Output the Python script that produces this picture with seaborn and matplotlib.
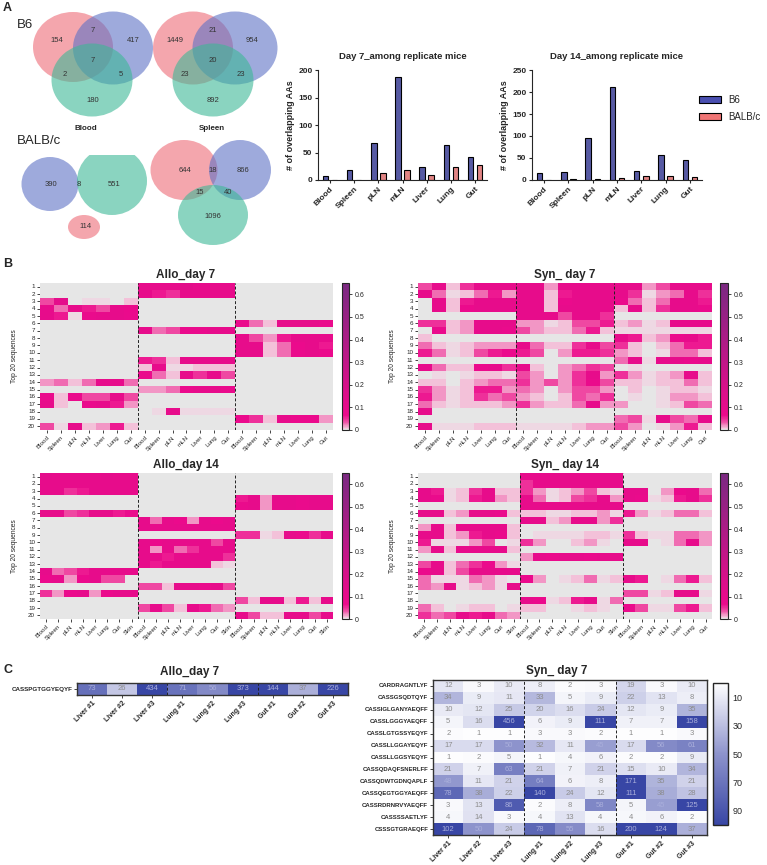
import numpy as np
import pandas as pd
import matplotlib
matplotlib.use("Agg")
import matplotlib.pyplot as plt
import seaborn as sns
from matplotlib.patches import Ellipse, Rectangle, Patch
from matplotlib.colors import LinearSegmentedColormap

W, H = 767, 865

# ---------------- panel A data ----------------
tissues = ['Blood', 'Spleen', 'pLN', 'mLN', 'Liver', 'Lung', 'Gut']
day7_b6 = [7, 19, 68, 187, 24, 64, 42]
day7_balb = [0, 0, 13, 18, 9, 24, 27]
day14_b6 = [17, 19, 95, 211, 20, 56, 45]
day14_balb = [0, 2, 2, 4, 9, 10, 6]

# venn counts (B6): red only, red&blue, blue only, red&green, all, blue&green, green only
venn_b6_blood = [154, 7, 417, 2, 7, 5, 180]
venn_b6_spleen = [1449, 21, 954, 23, 20, 23, 892]
# BALB/c blood: blue only, blue&green, green only, red only
venn_balb_blood = [390, 8, 551, 114]
# BALB/c spleen: red only, red&blue, blue only, red&green, blue&green, green only
venn_balb_spleen = [644, 18, 866, 15, 40, 1096]

# ---------------- panel B data ----------------
organs7 = tissues
organs8 = tissues + ['Skin']

allo_d7 = [
    [0, 0, 0, 0, 0, 0, 0, .1, .1, .1, .13, .1, .1, .1, 0, 0, 0, 0, 0, 0, 0],
    [0, 0, 0, 0, 0, 0, 0, .1, .06, .05, .1, .1, .1, .1, 0, 0, 0, 0, 0, 0, 0],
    [.04, .12, 0, .005, .005, 0, .01, 0, 0, 0, 0, 0, 0, 0, 0, 0, 0, 0, 0, 0, 0],
    [.1, .03, .1, .06, .04, .1, .07, 0, 0, 0, 0, 0, 0, 0, 0, 0, 0, 0, 0, 0, 0],
    [.1, .06, .005, .08, .1, .1, .08, 0, 0, 0, 0, 0, 0, 0, 0, 0, 0, 0, 0, 0, 0],
    [0, 0, 0, 0, 0, 0, 0, 0, 0, 0, 0, 0, 0, 0, .08, .03, .01, .1, .1, .1, .08],
    [0, 0, 0, 0, 0, 0, 0, .1, .03, .04, .08, .08, .1, .1, 0, 0, 0, 0, 0, 0, 0],
    [0, 0, 0, 0, 0, 0, 0, 0, 0, 0, 0, 0, 0, 0, .1, .04, .02, .06, .1, .1, .1],
    [0, 0, 0, 0, 0, 0, 0, 0, 0, 0, 0, 0, 0, 0, .1, .1, .01, .03, .07, .1, .06],
    [0, 0, 0, 0, 0, 0, 0, 0, 0, 0, 0, 0, 0, 0, .1, .1, .01, .03, .08, .1, .07],
    [0, 0, 0, 0, 0, 0, 0, .06, .05, .01, .1, .1, .1, .1, 0, 0, 0, 0, 0, 0, 0],
    [0, 0, 0, 0, 0, 0, 0, .01, .1, .005, .005, .01, .01, .01, 0, 0, 0, 0, 0, 0, 0],
    [0, 0, 0, 0, 0, 0, 0, .08, .03, .01, .1, .05, .1, .04, 0, 0, 0, 0, 0, 0, 0],
    [.02, .03, .01, .03, .1, .1, .03, 0, 0, 0, 0, 0, 0, 0, 0, 0, 0, 0, 0, 0, 0],
    [0, 0, 0, 0, 0, 0, 0, .02, .02, .03, .07, .1, .1, .08, 0, 0, 0, 0, 0, 0, 0],
    [.08, .01, .08, .04, .04, .1, .04, 0, 0, 0, 0, 0, 0, 0, 0, 0, 0, 0, 0, 0, 0],
    [.1, .01, 0, .08, .1, .06, .02, 0, 0, 0, 0, 0, 0, 0, 0, 0, 0, 0, 0, 0, 0],
    [0, 0, 0, 0, 0, 0, 0, 0, .005, .1, .003, .003, .003, .003, 0, 0, 0, 0, 0, 0, 0],
    [0, 0, 0, 0, 0, 0, 0, 0, 0, 0, 0, 0, 0, 0, .07, .05, .01, .1, .07, .07, .02],
    [.04, .005, .1, .01, .02, .06, .01, 0, 0, 0, 0, 0, 0, 0, 0, 0, 0, 0, 0, 0, 0],
]

syn_d7 = [
    [.04, .1, .01, .05, .1, .1, .1, .1, .1, .02, .1, .1, .1, .1, .1, .1, .02, .04, .1, .1, .1],
    [.1, .03, .005, .01, .03, .06, .02, .1, .1, .01, .06, .1, .1, .1, .1, .05, .003, .02, .03, .1, .05],
    [0, .1, .01, .06, .1, .1, .1, .1, .1, .01, .08, .1, .1, .1, .08, .03, .01, .03, .1, .1, .06],
    [0, .1, .01, .07, .1, .1, .1, .1, .1, .01, .1, .1, .1, .1, .01, .1, .01, .05, .1, .1, .08],
    [0, 0, 0, 0, 0, 0, 0, .1, .1, .1, .04, .1, .1, .05, 0, 0, 0, 0, 0, 0, 0],
    [.05, .05, .01, .02, .1, .1, .1, .02, .02, .005, .01, .04, .04, .06, .01, .02, .005, .01, .1, .1, .1],
    [0, .08, .01, .02, .1, .1, .08, .04, .02, .01, .01, .03, .06, .01, .005, .005, .005, .005, .005, .005, .005],
    [.01, 0, 0, 0, 0, 0, 0, 0, 0, 0, 0, 0, 0, 0, .1, .06, .01, .02, .07, .1, .06],
    [.03, .01, .005, .01, .02, .02, .02, .1, .03, .01, .01, .05, .1, .04, .05, .01, 0, .01, .03, .06, .06],
    [.06, .03, .005, .01, .04, .06, .07, .06, .04, 0, .02, .06, .06, .05, .02, .01, 0, .005, .03, .03, .01],
    [0, 0, 0, 0, 0, 0, 0, 0, 0, 0, 0, 0, 0, 0, .03, .1, .005, .1, .1, .08, .1],
    [.1, .03, .01, .01, .07, .1, .05, .1, .01, 0, .02, .03, .05, .04, 0, .005, 0, 0, 0, 0, 0],
    [0, .005, 0, .005, .01, .01, .005, .04, .02, 0, .02, .05, .1, .02, .05, .02, .005, .01, .02, .1, .01],
    [.01, .01, 0, .01, .02, .03, .03, .05, .02, .04, .02, .05, .08, .04, .01, .01, .005, .01, .01, .03, .01],
    [.05, .02, .005, .01, .06, .06, .02, .03, .02, 0, .02, .04, .04, .02, 0, .01, 0, .005, .01, .01, .005],
    [.06, .02, .005, .01, .05, .03, .04, .02, .01, 0, .01, .04, .03, .05, 0, .005, 0, .005, .02, .02, .01],
    [.03, .01, .005, .01, .01, .01, .02, .05, .02, .01, .01, .03, .1, .02, .02, 0, 0, .005, .01, .04, .03],
    [.1, 0, 0, 0, 0, 0, 0, 0, 0, 0, 0, 0, 0, 0, 0, 0, 0, 0, 0, 0, 0],
    [0, 0, 0, 0, 0, 0, 0, 0, 0, 0, 0, 0, 0, 0, .03, .04, .005, .1, .04, .03, .1],
    [.1, .005, .005, .005, .01, .01, .01, .005, .005, .005, .005, .01, .02, .02, .04, .02, 0, .005, .02, .06, .01],
]

allo_d14 = [
    [.12, .1, .1, .1, .1, .12, .1, .1, 0, 0, 0, 0, 0, 0, 0, 0, 0, 0, 0, 0, 0, 0, 0, 0],
    [.1, .1, .1, .1, .1, .1, .1, .1, 0, 0, 0, 0, 0, 0, 0, 0, 0, 0, 0, 0, 0, 0, 0, 0],
    [.1, .1, .05, .06, .1, .1, .1, .1, 0, 0, 0, 0, 0, 0, 0, 0, 0, 0, 0, 0, 0, 0, 0, 0],
    [0, 0, 0, 0, 0, 0, 0, 0, 0, 0, 0, 0, 0, 0, 0, 0, .06, .1, .02, .1, .1, .08, .1, .1],
    [0, 0, 0, 0, 0, 0, 0, 0, 0, 0, 0, 0, 0, 0, 0, 0, .08, .1, .02, .1, .1, .08, .1, .1],
    [.1, .1, .04, .05, .1, .1, .06, .08, 0, 0, 0, 0, 0, 0, 0, 0, 0, 0, 0, 0, 0, 0, 0, 0],
    [0, 0, 0, 0, 0, 0, 0, 0, .1, .03, .1, .07, .02, .1, .07, .1, 0, 0, 0, 0, 0, 0, 0, 0],
    [0, 0, 0, 0, 0, 0, 0, 0, .1, .1, .1, .1, .1, .1, .1, .1, 0, 0, 0, 0, 0, 0, 0, 0],
    [0, 0, 0, 0, 0, 0, 0, 0, 0, 0, 0, 0, 0, 0, 0, 0, .05, .05, .005, .01, .1, .07, .05, .1],
    [0, 0, 0, 0, 0, 0, 0, 0, .1, .07, .1, .1, .1, .1, .04, .1, 0, 0, 0, 0, 0, 0, 0, 0],
    [0, 0, 0, 0, 0, 0, 0, 0, .1, .02, .1, .03, .05, .1, .1, .1, 0, 0, 0, 0, 0, 0, 0, 0],
    [0, 0, 0, 0, 0, 0, 0, 0, .1, .1, .06, .1, .1, .1, .1, .05, 0, 0, 0, 0, 0, 0, 0, 0],
    [0, 0, 0, 0, 0, 0, 0, 0, .1, .06, .1, .1, .1, .1, .01, .005, 0, 0, 0, 0, 0, 0, 0, 0],
    [.1, .03, .04, .06, .1, .1, .1, .1, 0, 0, 0, 0, 0, 0, 0, 0, 0, 0, 0, 0, 0, 0, 0, 0],
    [.07, .1, .02, .07, .1, .04, .04, 0, 0, 0, 0, 0, 0, 0, 0, 0, 0, 0, 0, 0, 0, 0, 0, 0],
    [0, 0, 0, 0, 0, 0, 0, 0, .04, .04, .01, .1, .1, .08, .1, .04, 0, 0, 0, 0, 0, 0, 0, 0],
    [.05, .02, .07, .1, .02, .07, .1, .1, 0, 0, 0, 0, 0, 0, 0, 0, 0, 0, 0, 0, 0, 0, 0, 0],
    [0, 0, 0, 0, 0, 0, 0, 0, 0, 0, 0, 0, 0, 0, 0, 0, .04, .01, .1, .1, .01, .06, .01, .1],
    [0, 0, 0, 0, 0, 0, 0, 0, .04, .1, .04, .01, .1, .06, .03, .02, 0, 0, 0, 0, 0, 0, 0, 0],
    [0, 0, 0, 0, 0, 0, 0, 0, 0, 0, 0, 0, 0, 0, 0, 0, .1, .04, .01, .01, .1, .1, .04, .1],
]

syn_d14 = [
    [0, 0, 0, 0, 0, 0, 0, 0, .1, .1, .1, .1, .1, .1, .1, .1, 0, 0, 0, 0, 0, 0, 0],
    [0, 0, 0, 0, 0, 0, 0, 0, .05, .1, .1, .1, .1, .1, .1, .1, 0, 0, 0, 0, 0, 0, 0],
    [.1, .06, .005, .01, .05, .1, .01, .01, .05, .02, .005, .01, .02, .04, .01, .005, .1, .1, 0, .02, .07, .1, .03],
    [.1, .08, .005, .01, .06, .1, .02, .01, .1, .03, .005, .01, .04, .05, .1, .02, .1, .08, .005, .01, .06, .1, .05],
    [0, 0, 0, 0, 0, 0, 0, 0, .1, .1, .1, .1, .1, .1, .1, .1, 0, 0, 0, 0, 0, 0, 0],
    [.1, .1, .01, .02, .1, .1, .08, .01, .01, .01, .005, .005, .01, .01, .02, .005, .06, .02, .005, .01, .03, .03, .01],
    [0, 0, 0, 0, 0, 0, 0, 0, .1, .1, .01, .02, .1, .1, .02, .05, 0, 0, 0, 0, 0, 0, 0],
    [.02, .1, .01, .1, .1, .1, .1, .01, 0, 0, 0, 0, 0, 0, 0, 0, 0, 0, 0, 0, 0, 0, 0],
    [.1, .1, .01, .02, .06, .1, .08, .01, 0, .005, .005, .005, .005, .01, .01, .005, .05, .01, .005, .005, .03, .03, .02],
    [.06, .005, .005, .005, .02, .04, 0, .005, .05, .02, 0, 0, .01, .02, .005, 0, .1, .1, 0, .005, .03, .1, .02],
    [.02, .1, .01, .1, .1, .1, .1, .01, 0, 0, 0, 0, 0, 0, 0, 0, 0, 0, 0, 0, 0, 0, 0],
    [0, 0, 0, 0, 0, 0, 0, 0, .02, .1, .07, .1, .1, .08, .1, .1, 0, 0, 0, 0, 0, 0, 0],
    [.04, .1, .01, .03, .05, .07, .02, .005, 0, 0, 0, 0, 0, 0, 0, 0, 0, 0, 0, 0, 0, 0, 0],
    [.07, .1, .01, .04, .1, .1, .1, .1, 0, 0, 0, 0, 0, 0, 0, 0, 0, 0, 0, 0, 0, 0, 0],
    [.03, .005, .005, .005, .03, .02, .005, 0, .07, .02, 0, .005, .01, .03, .005, .01, .1, .06, 0, .005, .03, .06, .01],
    [.03, .02, .1, .005, .01, .02, .005, .1, 0, 0, 0, 0, 0, 0, 0, 0, 0, 0, 0, 0, 0, 0, 0],
    [0, 0, 0, 0, 0, 0, 0, 0, 0, 0, 0, 0, 0, 0, 0, 0, .04, .04, .005, .01, .1, .1, .005],
    [0, 0, 0, 0, 0, 0, 0, 0, .1, .07, .005, .01, .06, .1, .005, .03, 0, 0, 0, 0, 0, 0, 0],
    [.03, .01, 0, .005, .01, .01, 0, .005, .01, .01, 0, 0, .005, .01, .005, 0, .08, .04, .005, .005, .04, .06, .01],
    [.05, .03, .04, .1, .06, .1, .03, .02, 0, 0, 0, 0, 0, 0, 0, 0, 0, 0, 0, 0, 0, 0, 0],
]

# ---------------- panel C data ----------------
c_cols = ['Liver #1', 'Liver #2', 'Liver #3', 'Lung #1', 'Lung #2', 'Lung #3',
          'Gut #1', 'Gut #2', 'Gut #3']
allo_c_seqs = ['CASSPGTGGYEQYF']
allo_c_vals = [[73, 26, 434, 71, 56, 373, 144, 37, 226]]
syn_c_seqs = ['CARDRAGNTLYF', 'CASSGSQDTQYF', 'CASSIGLGANYAEQFF', 'CASSLGGGYAEQFF',
              'CASSLGTGSSYEQYF', 'CASSLLGGAYEQYF', 'CASSLLGGSYEQYF', 'CASSQDAQFSNERLFF',
              'CASSQDWTGDNQAPLF', 'CASSQEGTGGYAEQFF', 'CASSRDRNRVYAEQFF', 'CASSSSAETLYF',
              'CSSSGTGRAEQFF']
syn_c_vals = [
    [12, 3, 10, 8, 2, 3, 19, 3, 10],
    [34, 9, 11, 33, 5, 9, 22, 13, 8],
    [10, 12, 25, 20, 16, 24, 12, 9, 35],
    [5, 16, 456, 6, 9, 111, 7, 7, 158],
    [2, 1, 1, 3, 3, 2, 1, 1, 3],
    [17, 17, 50, 32, 11, 45, 17, 56, 61],
    [1, 2, 5, 1, 4, 6, 2, 2, 9],
    [21, 7, 63, 21, 7, 21, 15, 10, 34],
    [48, 11, 21, 64, 6, 8, 171, 35, 21],
    [78, 38, 22, 140, 24, 12, 111, 38, 28],
    [3, 13, 86, 2, 8, 58, 5, 45, 125],
    [4, 14, 3, 4, 13, 4, 4, 6, 2],
    [102, 50, 24, 78, 55, 16, 200, 124, 37],
]

# ---------------- style ----------------
sns.set_style('ticks')
plt.rcParams['font.family'] = ['Liberation Sans', 'DejaVu Sans']
plt.rcParams['axes.linewidth'] = 0.8

pink_cmap = LinearSegmentedColormap.from_list('pink', [
    (0.0, '#E6E6E6'), (0.004 / 0.65, '#F3D0E1'), (0.015 / 0.65, '#F2A2CA'),
    (0.035 / 0.65, '#EF4FA5'), (0.065 / 0.65, '#EC0A8C'), (0.15 / 0.65, '#DF0E8A'),
    (1.0, '#7A2A82')])
blue_cmap = LinearSegmentedColormap.from_list('blu', [
    (0.0, '#FFFFFF'), (0.5, '#8D93CC'), (1.0, '#3846A5')])

fig = plt.figure(figsize=(W / 100, H / 100), dpi=100)


def px(l, t, r, b):
    return fig.add_axes([l / W, 1 - b / H, (r - l) / W, (b - t) / H])


def ftext(x, y, s, **kw):
    fig.text(x / W, 1 - y / H, s, **kw)


# ---------------- A: venn diagrams ----------------
red, blue, green = '#EE6B77', '#5E72C6', '#3DB896'
av = px(0, 0, 300, 245)
av.set_xlim(0, 300)
av.set_ylim(245, 0)
av.axis('off')


def circ(cx, cy, w, h, c):
    e = Ellipse((cx, cy), w, h, color=c, alpha=0.6, lw=0)
    av.add_patch(e)
    return e


def num(x, y, v):
    av.text(x, y, str(v), ha='center', va='center', fontsize=5.5, color='#333333')


circ(73, 47, 80, 70, red); circ(113, 48, 80, 73, blue); circ(92, 80, 81, 73, green)
for (x, y), v in zip([(57, 41), (93, 31), (133, 41), (65, 75), (93, 60), (121, 75), (93, 100)], venn_b6_blood):
    num(x, y, v)
circ(193, 48, 80, 73, red); circ(235, 48, 85, 73, blue); circ(213, 80, 81, 73, green)
for (x, y), v in zip([(175, 41), (213, 31), (252, 41), (185, 75), (213, 60), (241, 75), (213, 100)], venn_b6_spleen):
    num(x, y, v)
circ(50, 184, 57, 54, blue)
g = circ(112, 181, 70, 68, green)
g.set_clip_path(Rectangle((60, 155), 100, 80, transform=av.transData))
circ(84, 227, 32, 24, red)
for (x, y), v in zip([(51, 185), (79, 185), (114, 185), (86, 226)], venn_balb_blood):
    num(x, y, v)
circ(184, 170, 67, 60, red); circ(240, 170, 62, 60, blue); circ(213, 215, 70, 60, green)
for (x, y), v in zip([(185, 171), (213, 171), (243, 171), (200, 193), (228, 193), (213, 217)], venn_balb_spleen):
    num(x, y, v)
av.text(86, 128, 'Blood', ha='center', va='center', fontsize=5.8, fontweight='bold')
av.text(212, 128, 'Spleen', ha='center', va='center', fontsize=5.8, fontweight='bold')
av.text(17, 25, 'B6', ha='left', va='center', fontsize=9.5)
av.text(17, 141, 'BALB/c', ha='left', va='center', fontsize=9.5)

# ---------------- A: bar charts ----------------
bar_pal = {'B6': '#4A4FB0', 'BALB/c': '#F07575'}


def bars(ax, b6, balb, title, ymax):
    df = pd.DataFrame({'tissue': tissues * 2,
                       'count': b6 + balb,
                       'strain': ['B6'] * len(tissues) + ['BALB/c'] * len(tissues)})
    sns.barplot(data=df, x='tissue', y='count', hue='strain', palette=bar_pal,
                edgecolor='black', linewidth=0.8, width=0.75, gap=0.4,
                legend=False, ax=ax)
    ax.set_xlim(-0.5, 6.5)
    ax.set_ylim(0, ymax)
    ax.set_yticks(range(0, ymax + 1, 50))
    ax.set_xlabel('')
    ax.set_ylabel('# of overlapping AAs', fontsize=6.5, fontweight='bold', labelpad=2)
    ax.set_title(title, fontsize=6.8, fontweight='bold', pad=8)
    sns.despine(ax=ax)
    ax.tick_params(labelsize=6, length=2.5, width=0.8, pad=1.5)
    for lb in ax.get_xticklabels():
        lb.set_rotation(45); lb.set_ha('right'); lb.set_rotation_mode('anchor')
        lb.set_fontweight('bold')
    for lb in ax.get_yticklabels():
        lb.set_fontweight('bold')


bars(px(318, 70, 487, 180), day7_b6, day7_balb, 'Day 7_among replicate mice', 200)
bars(px(532, 70, 702, 180), day14_b6, day14_balb, 'Day 14_among replicate mice', 250)
fig.legend(handles=[Patch(facecolor=bar_pal['B6'], edgecolor='black', lw=0.8),
                    Patch(facecolor=bar_pal['BALB/c'], edgecolor='black', lw=0.8)],
           labels=['B6', 'BALB/c'], loc='upper left',
           bbox_to_anchor=(692 / W, 1 - 88 / H), frameon=False, fontsize=7,
           handlelength=2.3, handleheight=0.7, labelspacing=0.7, handletextpad=0.7,
           borderpad=0.2)


# ---------------- B: heatmaps ----------------
def heat_b(box, cbox, data, cols, bounds, title, tx):
    ax = px(*box)
    cax = px(*cbox)
    df = pd.DataFrame(data, index=[str(i) for i in range(1, 21)])
    sns.heatmap(df, ax=ax, cbar_ax=cax, cmap=pink_cmap, vmin=0, vmax=0.65,
                xticklabels=cols, yticklabels=list(df.index),
                cbar_kws={'ticks': [0, .1, .2, .3, .4, .5, .6]})
    for b in bounds:
        ax.axvline(b, color='#222222', lw=0.7, ls=(0, (3, 2)))
    ax.tick_params(labelsize=4.5, length=2.5, width=0.6, pad=1)
    for lb in ax.get_xticklabels():
        lb.set_rotation(45); lb.set_ha('right'); lb.set_rotation_mode('anchor')
    for lb in ax.get_yticklabels():
        lb.set_rotation(0)
    ax.set_ylabel('Top 20 sequences', fontsize=4.8)
    ax.yaxis.set_label_coords(-0.075, 0.5)
    cb = ax.collections[0].colorbar
    cb.set_ticklabels(['0', '0.1', '0.2', '0.3', '0.4', '0.5', '0.6'])
    cb.outline.set_linewidth(0.8)
    cax.tick_params(labelsize=5, length=2, width=0.6, pad=2)
    ftext(tx, box[1] - 8, title, ha='center', va='center', fontsize=8.5, fontweight='bold')


heat_b((40, 283, 333, 430), (342, 283, 349, 430), allo_d7, organs7 * 3, [7, 14], 'Allo_day 7', 186)
heat_b((418, 283, 712, 430), (720, 283, 728, 430), syn_d7, organs7 * 3, [7, 14], 'Syn_ day 7', 565)
heat_b((40, 473, 333, 619), (342, 473, 349, 619), allo_d14, organs8 * 3, [8, 16], 'Allo_day 14', 186)
heat_b((418, 473, 712, 619), (720, 473, 728, 619), syn_d14, organs8 * 2 + organs7, [8, 16], 'Syn_ day 14', 565)


# ---------------- C: clone tables ----------------
def heat_c(ax, vals, seqs, cax=None, ylab=4.5):
    df = pd.DataFrame(vals, index=seqs, columns=c_cols)
    sns.heatmap(df, ax=ax, cmap=blue_cmap, vmin=0, vmax=100, annot=True, fmt='d',
                annot_kws={'fontsize': 5.5}, cbar=cax is not None, cbar_ax=cax,
                xticklabels=c_cols, yticklabels=seqs)
    for t, v in zip(ax.texts, df.values.ravel()):
        t.set_color('#A9AEDB' if v >= 40 else '#8C8C8C')
    for b in [3, 6]:
        ax.axvline(b, color='#222222', lw=0.7, ls=(0, (3, 2)))
    for s in ax.spines.values():
        s.set_visible(True); s.set_linewidth(1); s.set_color('#333333')
    ax.tick_params(length=2.5, width=0.6, pad=1)
    for lb in ax.get_xticklabels():
        lb.set_rotation(45); lb.set_ha('right'); lb.set_rotation_mode('anchor')
        lb.set_fontsize(5); lb.set_fontweight('bold')
    for lb in ax.get_yticklabels():
        lb.set_rotation(0); lb.set_fontsize(ylab); lb.set_fontweight('bold')
    ax.set_ylabel('')
    if cax is not None:
        cb = ax.collections[0].colorbar
        cb.set_ticks([10, 30, 50, 70, 90])
        cb.outline.set_linewidth(1)
        cax.invert_yaxis()
        cax.tick_params(labelsize=6.5, length=0, pad=3)


heat_c(px(77, 683, 348, 695), allo_c_vals, allo_c_seqs)
ftext(190, 672, 'Allo_day 7', ha='center', va='center', fontsize=8.5, fontweight='bold')
heat_c(px(433, 680, 707, 835), syn_c_vals, syn_c_seqs, cax=px(713, 683, 728, 825), ylab=4.3)
ftext(557, 671, 'Syn_ day 7', ha='center', va='center', fontsize=8.5, fontweight='bold')

# panel letters
ftext(3, 8, 'A', ha='left', va='center', fontsize=9, fontweight='bold')
ftext(3, 264, 'B', ha='left', va='center', fontsize=9, fontweight='bold')
ftext(3, 670, 'C', ha='left', va='center', fontsize=9, fontweight='bold')

fig.savefig('out.png', dpi=100)
